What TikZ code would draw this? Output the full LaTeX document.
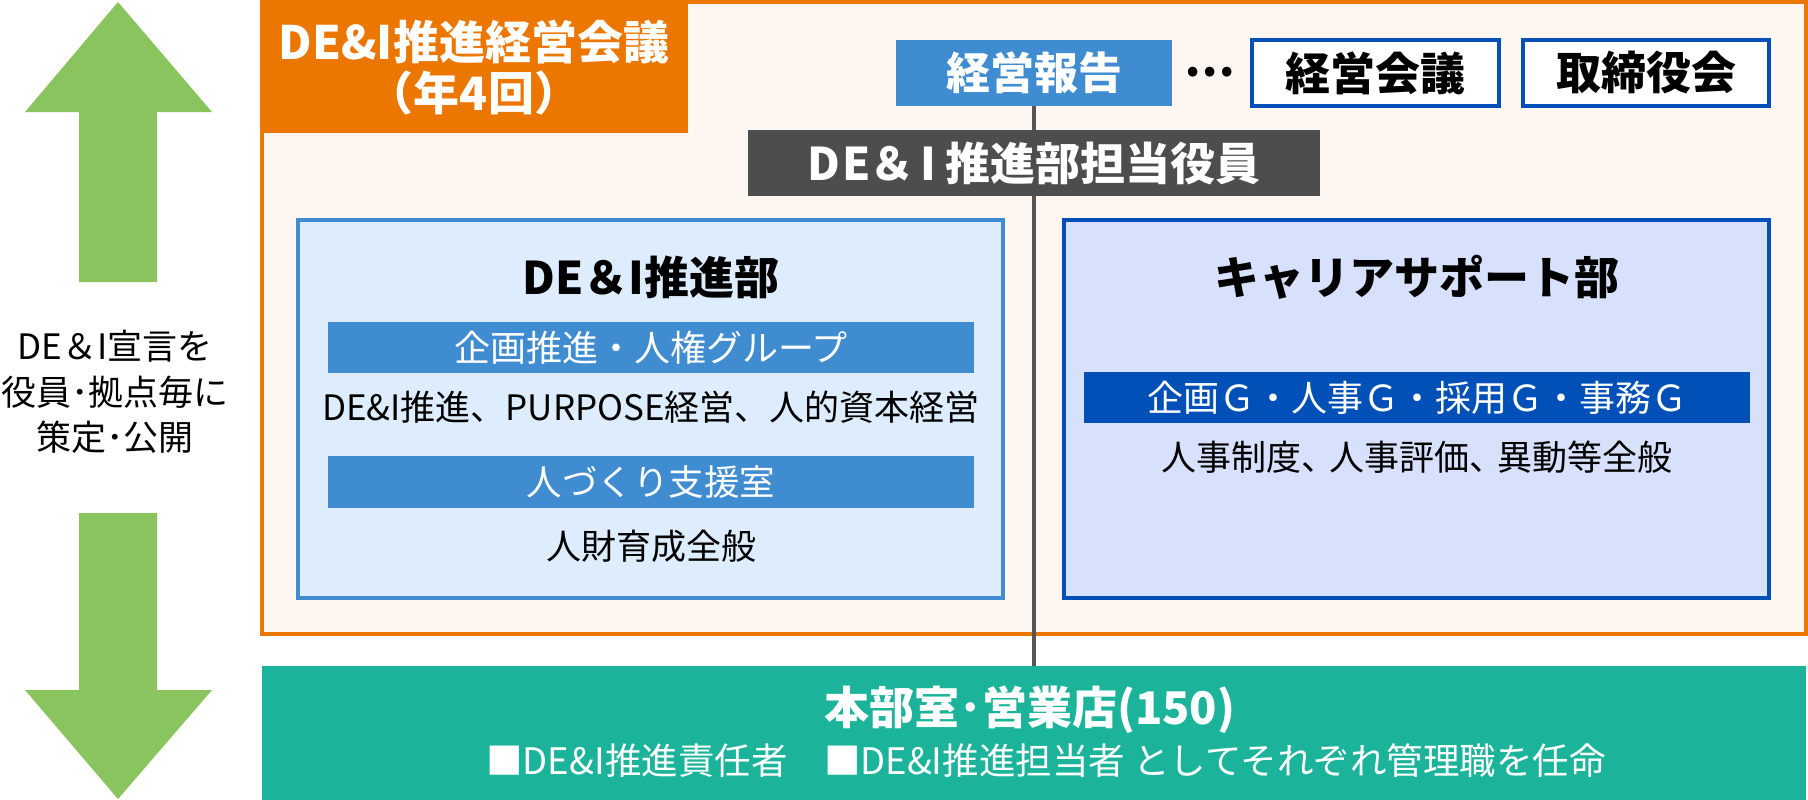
\documentclass[tikz,border=0pt]{standalone}
\usepackage{fontspec}
\setmainfont{Noto Sans CJK JP}
\definecolor{orng}{HTML}{EC7700}
\definecolor{cream}{HTML}{FEF6F0}
\definecolor{midblue}{HTML}{3F8CD1}
\definecolor{paleblue}{HTML}{DDEDFD}
\definecolor{lavender}{HTML}{D8E1FC}
\definecolor{deepblue}{HTML}{0050B8}
\definecolor{dgrey}{HTML}{4D4D4D}
\definecolor{linegrey}{HTML}{555555}
\definecolor{arrowgreen}{HTML}{8AC45E}
\definecolor{barteal}{HTML}{1BB39A}
\begin{document}
\begin{tikzpicture}[x=1pt,y=-1pt,
  box/.style={rectangle,inner sep=0pt,outer sep=0pt},
  txt/.style={inner sep=0pt,outer sep=0pt,align=center},
  body/.style={txt,font=\fontsize{35}{42}\selectfont},
  head/.style={txt,font=\bfseries\fontsize{45}{50}\selectfont},
  title/.style={txt,font=\bfseries\fontsize{45}{50}\selectfont},
  framed/.style={box,line width=4pt}]
\useasboundingbox (0,0) rectangle (1808,800);
\fill[white] (0,0) rectangle (1808,800);

% green arrows
\fill[arrowgreen] (118,2) -- (212,112) -- (157,112) -- (157,282) -- (79,282) -- (79,112) -- (25,112) -- cycle;
\fill[arrowgreen] (79,513) -- (157,513) -- (157,690) -- (212,690) -- (118,799) -- (25,690) -- (79,690) -- cycle;
\node[txt,font=\fontsize{35}{45.5}\selectfont] (decl) at (115,392) {DE＆I宣言を\\役員･拠点毎に\\策定･公開};

% meeting frame
\node[framed,draw=orng,fill=cream,minimum width=1544,minimum height=632] (frame) at (1034,318) {};
\node[box,fill=orng,minimum width=428,minimum height=133,anchor=north west] (hdr) at (260,0) {};
\node[txt,text=white,font=\bfseries\fontsize{46}{51}\selectfont] (hdrtext) at (474,68) {DE\&I推進経営会議\\（年4回）};

% bottom bar
\node[box,fill=barteal,minimum width=1544,minimum height=134,anchor=north west] (honbu) at (262,666) {};
\node[txt,text=white,font=\bfseries\fontsize{45}{50}\selectfont] (honbutitle) at (1030,710) {本部室･営業店(150)};
\node[txt,text=white,font=\fontsize{36.5}{42}\selectfont] (honbutext) at (1046,761) {■DE\&I推進責任者　■DE\&I推進担当者 としてそれぞれ管理職を任命};

% top row
\node[box,fill=midblue,minimum width=276,minimum height=66,text=white,font=\bfseries\fontsize{44}{50}\selectfont] (report) at (1034,73) {経営報告};
\draw[linegrey,line width=3.5pt] (report.south) -- (honbu.north);
\node[head] (dots) at (1210,72) {…};
\node[framed,draw=deepblue,fill=white,minimum width=247,minimum height=66,font=\bfseries\fontsize{45}{50}\selectfont] (keiei) at (1375.5,73) {経営会議};
\node[framed,draw=deepblue,fill=white,minimum width=246,minimum height=66,font=\bfseries\fontsize{45}{50}\selectfont] (board) at (1646,73) {取締役会};

% executive
\node[box,fill=dgrey,minimum width=572,minimum height=66,text=white,font=\bfseries\fontsize{45}{50}\selectfont] (exec) at (1034,163) {D\kern3pt E\kern-2pt ＆\kern6pt I\kern10pt 推進部担当役員};

% departments
\node[framed,draw=midblue,fill=paleblue,minimum width=705,minimum height=378] (dei) at (650.5,409) {};
\node[framed,draw=deepblue,fill=lavender,minimum width=705,minimum height=378] (career) at (1416.5,409) {};

\node[title] (deititle) at (651,277) {DE＆I推進部};
\node[box,fill=midblue,minimum width=646,minimum height=51,text=white,font=\fontsize{36}{42}\selectfont] (kikaku) at (651,347.5) {企画推進・人権グループ};
\node[body] (kikakutext) at (651,407) {DE\&I推進、PURPOSE経営、人的資本経営};
\node[box,fill=midblue,minimum width=646,minimum height=52,text=white,font=\fontsize{35.5}{42}\selectfont] (hito) at (651,482) {人づくり支援室};
\node[body] (hitotext) at (651,546) {人財育成全般};

\node[title] (careertitle) at (1416.5,277) {キャリアサポート部};
\node[box,fill=deepblue,minimum width=666,minimum height=51,text=white,font=\fontsize{36}{42}\selectfont] (groups) at (1417,397.5) {企画Ｇ・人事Ｇ・採用Ｇ・事務Ｇ};
\node[body] (groupstext) at (1417,457) {人事制度、\kern-7pt 人事評価、\kern-7pt 異動等全般};
\end{tikzpicture}
\end{document}
